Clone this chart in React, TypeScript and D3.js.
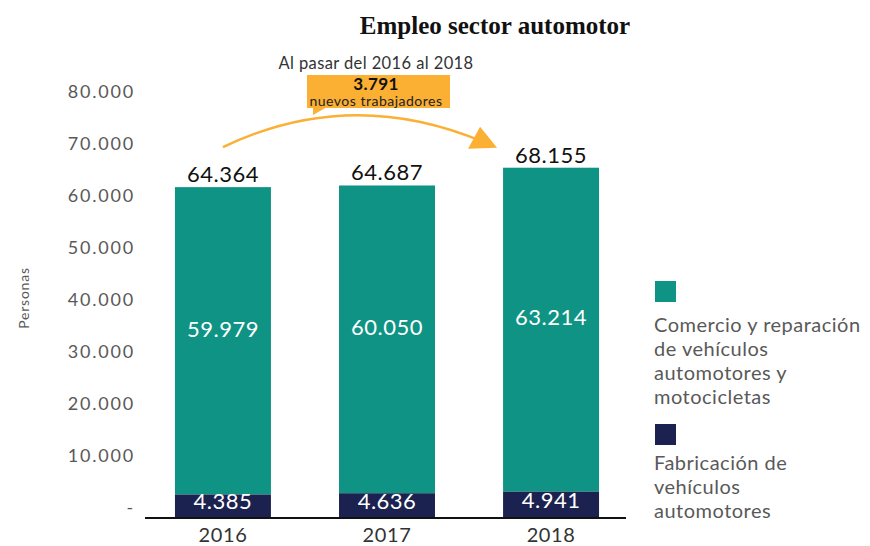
import React from "react";
import * as d3 from "d3";

const years = ["2016", "2017", "2018"];
const fabricacion = [4385, 4636, 4941];
const comercio = [59979, 60050, 63214];
const totals = [64364, 64687, 68155];
const tickValues = [0, 10000, 20000, 30000, 40000, 50000, 60000, 70000, 80000];
const tickLabels = ["-", "10.000", "20.000", "30.000", "40.000", "50.000", "60.000", "70.000", "80.000"];
const legendItems = [
  { label: ["Comercio y reparación", "de vehículos", "automotores y", "motocicletas"], color: "#0E9384" },
  { label: ["Fabricación de", "vehículos", "automotores"], color: "#1B2250" },
];
const annotation = { top: "Al pasar del 2016 al 2018", value: "3.791", sub: "nuevos trabajadores" };

const fmt = (v: number) => d3.format(",")(v).replace(/,/g, ".");

export default function App() {
  const W = 870, H = 546;
  const font = "Lato, 'Open Sans', sans-serif";
  const x = d3.scaleBand<string>().domain(years).range([141, 633]).paddingInner(0.415).paddingOuter(0.207);
  const yB = d3.scaleLinear().domain([0, 80000]).range([517, 107]);
  const yT = d3.scaleLinear().domain([0, 80000]).range([508, 92]);
  const bw = x.bandwidth();

  const x0 = (x("2016") as number) + bw * 0.5;
  const x2 = (x("2018") as number) - 6;
  const sY = yB(totals[0]) - 40;
  const eY = yB(totals[2]) - 20;
  const path = d3.path();
  path.moveTo(x0, sY);
  path.quadraticCurveTo((x0 + x2) / 2 - 10, 86, x2 - 14, eY - 6);
  const tip = [x2, eY];

  const boxX = 307, boxY = 75, boxW = 143, boxH = 33;

  return (
    <svg width={W} height={H} style={{ position: "absolute", left: 0, top: 0, background: "#fff" }}>
      <text x={495} y={34} textAnchor="middle" fontFamily="'Liberation Serif', 'DejaVu Serif', serif" fontWeight="bold" fontSize={25} fill="#111">
        Empleo sector automotor
      </text>

      {tickValues.map((v, i) => (
        <text key={v} x={135} y={yT(v)} dy="0.35em" textAnchor="end" fontFamily={font} fontSize={18} letterSpacing={1.8} fill="#595959">
          {tickLabels[i]}
        </text>
      ))}
      <text transform={`translate(29,298) rotate(-90)`} textAnchor="middle" fontFamily={font} fontSize={14} letterSpacing={0.8} fill="#595959">
        Personas
      </text>

      {years.map((yr, i) => {
        const bx = x(yr) as number;
        const yNavyTop = yB(fabricacion[i]);
        const yTop = yB(fabricacion[i] + comercio[i]);
        return (
          <g key={yr}>
            <rect x={bx} y={yTop} width={bw} height={yNavyTop - yTop} fill="#0E9384" />
            <rect x={bx} y={yNavyTop} width={bw} height={yB(0) - yNavyTop} fill="#1B2250" />
            <text x={bx + bw / 2} y={(yTop + yNavyTop) / 2 - 12} dy="0.35em" textAnchor="middle" fontFamily={font} fontSize={22} letterSpacing={0.5} fill="#fff">
              {fmt(comercio[i])}
            </text>
            <text x={bx + bw / 2} y={(yNavyTop + yB(0)) / 2 - 4} dy="0.35em" textAnchor="middle" fontFamily={font} fontSize={22} letterSpacing={0.5} fill="#fff">
              {fmt(fabricacion[i])}
            </text>
            <text x={bx + bw / 2} y={yTop - 5} textAnchor="middle" fontFamily={font} fontSize={22} letterSpacing={0.5} fill="#111">
              {fmt(totals[i])}
            </text>
            <text x={bx + bw / 2} y={542} textAnchor="middle" fontFamily={font} fontSize={20} letterSpacing={0.6} fill="#333">
              {yr}
            </text>
          </g>
        );
      })}
      <line x1={145} x2={626} y1={518} y2={518} stroke="#111" strokeWidth={2} />

      <path d={path.toString()} fill="none" stroke="#FBB034" strokeWidth={2.5} />
      <polygon points={`${tip[0]},${tip[1]} ${tip[0] - 17},${tip[1] - 21} ${tip[0] - 29},${tip[1] + 1}`} fill="#FBB034" />
      <text x={376} y={69} textAnchor="middle" fontFamily={font} fontSize={16.5} letterSpacing={0.4} fill="#333">
        {annotation.top}
      </text>
      <rect x={boxX} y={boxY} width={boxW} height={boxH} fill="#FBB034" />
      <polygon points={`${boxX + 6},${boxY + boxH - 1} ${boxX + 20},${boxY + boxH - 1} ${boxX + 6},${boxY + boxH + 7}`} fill="#FBB034" />
      <text x={376} y={90} textAnchor="middle" fontFamily={font} fontWeight="bold" fontSize={17} letterSpacing={0.4} fill="#111">
        {annotation.value}
      </text>
      <text x={376} y={106} textAnchor="middle" fontFamily={font} fontSize={14} letterSpacing={0.5} fill="#222">
        {annotation.sub}
      </text>

      {legendItems.map((it, i) => {
        const top = i === 0 ? 281 : 424;
        const off = i === 0 ? 51 : 46;
        return (
          <g key={i}>
            <rect x={655} y={top} width={21} height={21} fill={it.color} />
            {it.label.map((l, j) => (
              <text key={j} x={654} y={top + off + j * 24} fontFamily={font} fontSize={20} letterSpacing={0.5} fill="#595959">
                {l}
              </text>
            ))}
          </g>
        );
      })}
    </svg>
  );
}
